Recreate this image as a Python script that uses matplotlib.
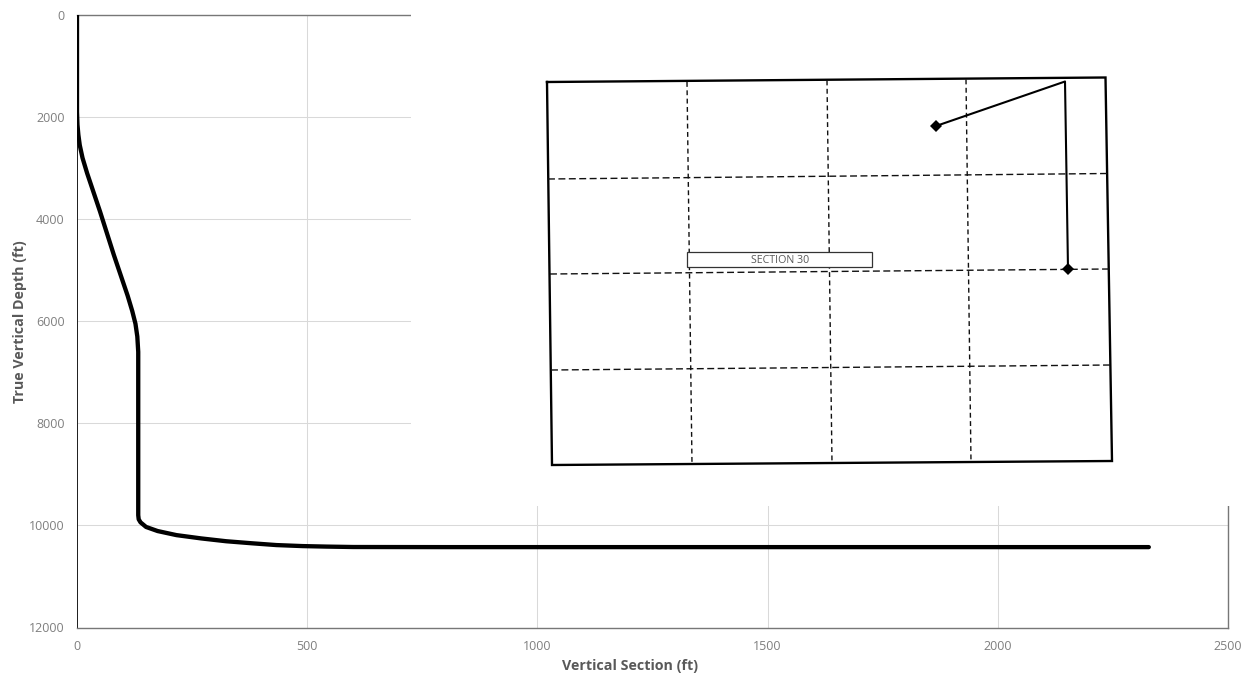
import matplotlib.pyplot as plt

plt.rcParams['font.family'] = ['Open Sans', 'DejaVu Sans']

# well profile
vs_ft = [0, 0, 1, 3, 6, 12, 22, 50, 80, 110, 120, 127, 131, 133, 133, 134, 138, 150, 175, 216,
         270, 324, 380, 433, 490, 542, 600, 800, 1500, 2328]
tvd_ft = [0, 1900, 2150, 2350, 2550, 2800, 3100, 3850, 4700, 5500, 5800, 6050, 6300, 6600, 9800,
          9880, 9940, 10030, 10110, 10190, 10255, 10310, 10350, 10385, 10405, 10415, 10423,
          10425, 10425, 10425]

x_ticks = [0, 500, 1000, 1500, 2000, 2500]
y_ticks = [0, 2000, 4000, 6000, 8000, 10000, 12000]

# section plat sketch, in pixels of the picture
outline_x = [547, 1105.5, 1112, 552, 547]
outline_y = [82, 77.5, 461, 465, 82]
dash_v = [([687, 692], [82, 464]), ([827, 832], [80.5, 463]), ([966, 971], [79.5, 462])]
dash_h = [([548, 1107], [179, 173.5]), ([550, 1109], [274, 269]), ([551, 1111], [370, 365])]
lateral_x = [936, 1065, 1068]
lateral_y = [126, 81.5, 269]
section_label = 'SECTION 30'
label_box = (687.5, 252, 185, 15)

W, H = 1251, 675
fig = plt.figure(figsize=(W / 100, H / 100), dpi=100)
ax = fig.add_axes([77 / W, 1 - 627.5 / H, (1228 - 77) / W, (627.5 - 15) / H])

ax.plot(vs_ft, tvd_ft, color='black', lw=3.1, solid_capstyle='round', solid_joinstyle='round', zorder=3)
ax.set_xlim(0, 2500)
ax.set_ylim(12000, 0)
ax.set_xticks(x_ticks)
ax.set_yticks(y_ticks)
ax.grid(True, color='#d9d9d9', lw=0.75)
ax.set_axisbelow(True)
ax.tick_params(length=0, labelcolor='#7f7f7f', labelsize=9)
ax.tick_params(axis='x', pad=9)
ax.tick_params(axis='y', pad=9)

# dotted frame, grey on three sides and darker on the left
for name in ax.spines:
    ax.spines[name].set_linestyle((0, (1, 1)))
    ax.spines[name].set_linewidth(1.0)
    ax.spines[name].set_color('#777777')
ax.spines['left'].set_linewidth(0.72)
ax.spines['left'].set_color('#222222')

ax.set_xlabel('Vertical Section (ft)', fontsize=10.3, fontweight='bold', color='#595959', va='center')
ax.set_ylabel('True Vertical Depth (ft)', fontsize=10.3, fontweight='bold', color='#595959', va='center')
ax.xaxis.set_label_coords((630.5 - 77) / (1228 - 77), -(666 - 627.5) / (627.5 - 15))
ax.yaxis.set_label_coords((20 - 77) / (1228 - 77), 1 - (321.5 - 15) / (627.5 - 15))

# the plat was pasted over the chart as a white picture, it hides the grid behind it
ins = fig.add_axes([411 / W, 1 - 506 / H, (1240 - 411) / W, 506 / H], zorder=5)
ins.set_xlim(411, 1240)
ins.set_ylim(506, 0)
ins.set_facecolor('white')
ins.set_xticks([])
ins.set_yticks([])
for name in ins.spines:
    ins.spines[name].set_visible(False)

ins.plot(outline_x, outline_y, color='black', lw=1.7, solid_joinstyle='miter')
for xs, ys in dash_v:
    ins.plot(xs, ys, color='#111111', lw=1, dashes=(3.5, 2.5))
for xs, ys in dash_h:
    ins.plot(xs, ys, color='#111111', lw=1, dashes=(5, 2.5))
ins.add_patch(plt.Rectangle(label_box[:2], label_box[2], label_box[3], fc='white', ec='#333333', lw=0.9, zorder=4))
ins.text(label_box[0] + label_box[2] / 2, label_box[1] + label_box[3] / 2 + 1, section_label, fontsize=7.7,
         color='#595959', ha='center', va='center', zorder=5)
ins.plot(lateral_x, lateral_y, color='black', lw=1.5)
ins.plot([lateral_x[0], lateral_x[-1]], [lateral_y[0], lateral_y[-1]], ls='none', marker='D', ms=6,
         color='black', mew=0)

fig.savefig('out.png', dpi=100)
